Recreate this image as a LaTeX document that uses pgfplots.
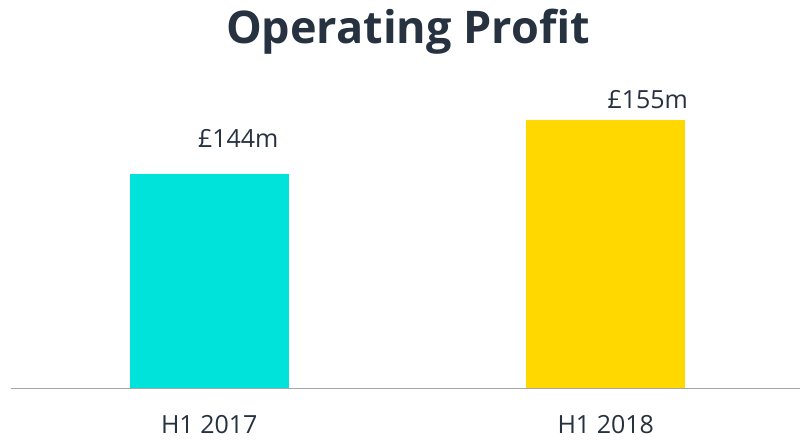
\documentclass[border=0pt]{standalone}
\usepackage{fontspec}
\setmainfont{Open Sans}
\usepackage{pgfplots}
\pgfplotsset{compat=1.18}
\definecolor{opCyan}{RGB}{0,227,218}
\definecolor{opGold}{RGB}{255,216,0}
\definecolor{opText}{RGB}{38,50,64}
\definecolor{opLine}{RGB}{166,166,166}
\begin{document}
\begin{tikzpicture}[x=1pt,y=1pt]
\path[use as bounding box] (0,0) rectangle (802,439);
\node[font=\fontsize{45}{50}\selectfont\bfseries, text=opText] at (408,407) {Operating Profit};
\begin{axis}[
  at={(11pt,51pt)}, anchor=south west,
  scale only axis,
  width=789pt, height=308pt,
  ybar, bar shift=0pt, bar width=159pt,
  xmin=-0.5, xmax=1.49,
  ymin=99.5, ymax=163.4,
  axis x line=bottom, axis y line=none,
  axis line style={-, opLine, line width=1pt},
  xtick={0,1}, xticklabels={H1 2017, H1 2018},
  major tick length=0pt,
  xticklabel style={anchor=base, yshift=-45pt, text=opText,
    font=\fontsize{25}{30}\selectfont},
  nodes near coords,
  point meta=explicit symbolic,
  every node near coord/.append style={anchor=base, text=opText,
    font=\fontsize{25}{30}\selectfont},
  clip=false,
]
\addplot[fill=opCyan, draw=none,
  every node near coord/.append style={xshift=29pt, yshift=26pt}]
  coordinates {(0,144) [\pounds144m]};
\addplot[fill=opGold, draw=none,
  every node near coord/.append style={xshift=42pt, yshift=12pt}]
  coordinates {(1,155) [\pounds155m]};
\end{axis}
\end{tikzpicture}
\end{document}
